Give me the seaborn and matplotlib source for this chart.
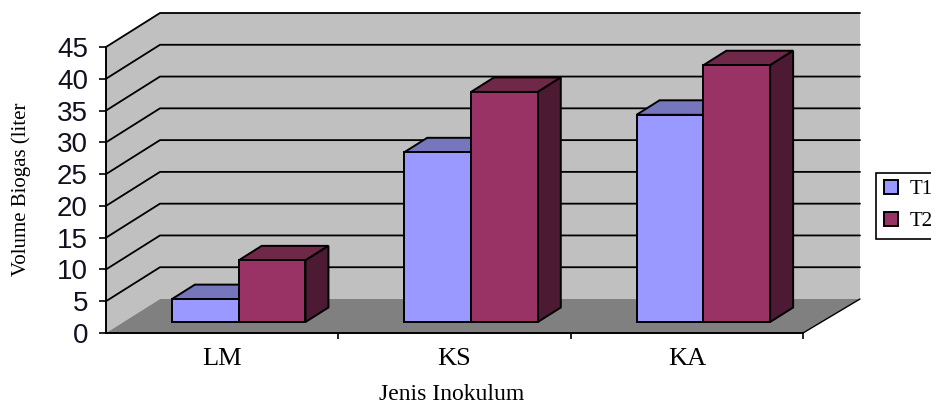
import matplotlib
matplotlib.use("Agg")
import matplotlib.pyplot as plt
import pandas as pd
import seaborn as sns
from matplotlib.patches import Patch

categories = ["LM", "KS", "KA"]
series_names = ["T1", "T2"]
t1_values = [3.6, 26.7, 32.6]
t2_values = [9.7, 36.2, 40.4]
y_ticks = list(range(0, 50, 5))
x_label = "Jenis Inokulum"
y_label = "Volume Biogas (liter"

front_colors = {"T1": "#9999FF", "T2": "#993366"}
top_colors = {"T1": "#7676BC", "T2": "#6F2848"}
side_colors = {"T1": "#4A4A80", "T2": "#4D1A33"}

W, H = 931, 404
L, R, B, T = 106, 803, 333, 47
sns.set_theme(style="white")
plt.rcParams["font.family"] = ["Liberation Serif", "DejaVu Serif"]

fig = plt.figure(figsize=(W / 100, H / 100), dpi=100, facecolor="white")
ax = fig.add_axes([L / W, 1 - B / H, (R - L) / W, (B - T) / H], facecolor="none")

df = pd.DataFrame({
    "Jenis": categories * 2,
    "Seri": [series_names[0]] * 3 + [series_names[1]] * 3,
    "Volume": t1_values + t2_values,
})
sns.barplot(data=df, x="Jenis", y="Volume", hue="Seri", order=categories,
            hue_order=series_names, palette=front_colors, width=0.575, gap=0,
            edgecolor="black", linewidth=1.4, saturation=1, errorbar=None,
            legend=False, ax=ax, zorder=5)
bars = list(ax.patches)

ax.set_xlim(-0.5, 2.5)
ax.set_ylim(0, 45)
px_x = (R - L) / 3.0
px_y = (B - T) / 45.0

# depth of the 3-D box and of the bars, in data units
box_dx, box_dy = 54 / px_x, -34 / px_y
bar_off_x, bar_off_y = 16.5 / px_x, 11 / px_y
bar_dx, bar_dy = 23 / px_x, 14.5 / px_y

x0, x1 = -0.5, 2.5
bx, by = box_dx, -box_dy
wall_right = x0 + 754 / px_x


def poly(xs, ys, color, z, edge="none", lw=0.0):
    ax.fill(xs, ys, facecolor=color, edgecolor=edge, linewidth=lw, zorder=z, clip_on=False)


poly([x0 + bx, wall_right, wall_right, x0 + bx], [by, by, 45 + by, 45 + by], "#C0C0C0", 0.5)
poly([x0, x0 + bx, x0 + bx, x0], [0, by, 45 + by, 45], "#C0C0C0", 0.5)
poly([x0, x1, wall_right, x0 + bx], [0, 0, by, by], "#808080", 0.6)
ax.plot([x1, wall_right], [0, by], color="black", lw=1.0, zorder=0.7, clip_on=False)

for v in y_ticks[1:]:
    ax.plot([x0, x0 + bx, wall_right], [v, v + by, v + by], color="black", lw=1.3,
            zorder=0.8, clip_on=False)

n = len(categories)
for i, patch in enumerate(bars):
    name = series_names[i // n]
    patch.set_x(patch.get_x() + bar_off_x)
    patch.set_y(bar_off_y)
    patch.set_clip_on(False)
    patch.set_zorder(5 + i // n)
    xa = patch.get_x()
    xb = xa + patch.get_width()
    yb = patch.get_y()
    yt = yb + patch.get_height()
    z = 4 + i // n
    poly([xa, xb, xb + bar_dx, xa + bar_dx], [yt, yt, yt + bar_dy, yt + bar_dy],
         top_colors[name], z, "black", 1.4)
    poly([xb, xb + bar_dx, xb + bar_dx, xb], [yb, yb + bar_dy, yt + bar_dy, yt],
         side_colors[name], z, "black", 1.4)

for s in ["top", "right"]:
    ax.spines[s].set_visible(False)
for s in ["left", "bottom"]:
    ax.spines[s].set_visible(True)
    ax.spines[s].set_color("black")
    ax.spines[s].set_linewidth(1.4)
    ax.spines[s].set_zorder(3)

ax.set_yticks(y_ticks)
ax.set_yticklabels([str(v) for v in y_ticks], family="Liberation Sans", fontsize=20, color="#111122")
ax.tick_params(axis="y", which="major", left=True, length=5, width=1.2, color="black", pad=8)
ax.set_xticks(range(n))
ax.set_xticklabels(categories, fontsize=19, color="black")
ax.set_xticks([0.5, 1.5, 2.5], minor=True)
ax.tick_params(axis="x", which="major", bottom=False, length=0, pad=11)
ax.tick_params(axis="x", which="minor", bottom=True, length=4, width=1.2, color="black")
ax.set_xlabel("")
ax.set_ylabel("")

fig.text(452 / W, 1 - 394 / H, x_label, ha="center", va="center", fontsize=17, color="black")
fig.text(21 / W, 1 - 189 / H, y_label, ha="center", va="center", rotation=90, fontsize=15, color="black")

handles = [Patch(facecolor=front_colors[s], edgecolor="black", linewidth=1.4, label=s) for s in series_names]
leg = ax.legend(handles=handles, loc="lower left", bbox_to_anchor=(876 / W, 1 - 239 / H),
                bbox_transform=fig.transFigure, borderaxespad=0, fancybox=False, framealpha=1,
                edgecolor="black", fontsize=15, labelcolor="black", handlelength=0.68, handleheight=0.65,
                handletextpad=0.55, labelspacing=0.62, borderpad=0.36)
leg.get_frame().set_linewidth(1.2)
leg.set_zorder(10)

fig.savefig("out.png", dpi=100)
